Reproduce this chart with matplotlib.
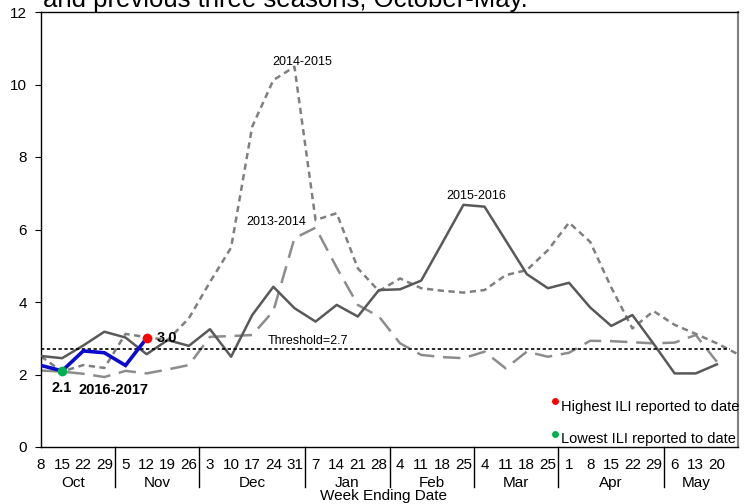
import matplotlib
matplotlib.use("Agg")
import matplotlib.pyplot as plt
import numpy as np

plt.rcParams['font.family'] = ['Liberation Sans', 'DejaVu Sans']

week_labels = ["8", "15", "22", "29", "5", "12", "19", "26", "3", "10", "17", "24", "31",
               "7", "14", "21", "28", "4", "11", "18", "25", "4", "11", "18", "25",
               "1", "8", "15", "22", "29", "6", "13", "20", ""]
months = ["Oct", "Nov", "Dec", "Jan", "Feb", "Mar", "Apr", "May"]
month_weeks = [4, 4, 5, 4, 4, 4, 5, 4]

s2013_2014 = [2.11, 2.08, 2.02, 1.93, 2.10, 2.03, 2.14, 2.26, 3.04, 3.06, 3.09, 3.75, 5.76,
              6.05, 4.95, 3.92, 3.60, 2.86, 2.54, 2.48, 2.45, 2.63, 2.17, 2.63, 2.49,
              2.60, 2.93, 2.92, 2.89, 2.86, 2.88, 3.09, 2.35]
s2014_2015 = [2.50, 2.08, 2.26, 2.18, 3.12, 3.03, 2.95, 3.55, 4.55, 5.50, 8.84, 10.12, 10.49,
              6.26, 6.45, 4.93, 4.30, 4.65, 4.38, 4.31, 4.26, 4.33, 4.74, 4.88, 5.43,
              6.19, 5.66, 4.40, 3.27, 3.75, 3.37, 3.12, 2.86, 2.56]
s2015_2016 = [2.51, 2.45, 2.80, 3.18, 3.02, 2.56, 2.95, 2.79, 3.25, 2.49, 3.64, 4.42, 3.83,
              3.46, 3.92, 3.60, 4.33, 4.35, 4.59, 5.63, 6.68, 6.63, 5.70, 4.77, 4.38,
              4.53, 3.85, 3.34, 3.64, 2.85, 2.03, 2.03, 2.28]
s2016_2017 = [2.25, 2.10, 2.65, 2.60, 2.25, 3.00]
threshold = 2.7

fig = plt.figure(figsize=(7.47, 5.04), dpi=100)
ax = fig.add_axes([41/747, (504-447)/504, (738-41)/747, (447-12)/504])

x = np.arange(len(week_labels))

ax.plot(np.arange(len(s2013_2014)), s2013_2014, color='#8c8c8c', lw=1.8,
        dashes=(7, 3.5), zorder=2)
ax.plot(np.arange(len(s2014_2015)), s2014_2015, color='#7f7f7f', lw=1.8,
        dashes=(2.5, 1.8), zorder=2)
ax.plot(np.arange(len(s2015_2016)), s2015_2016, color='#595959', lw=1.8, zorder=3)
ax.plot([0, 32.6], [threshold, threshold], color='black', lw=1.2, dashes=(2, 1.5), zorder=3)
ax.plot(np.arange(len(s2016_2017)), s2016_2017, color='#0a0ad0', lw=2.6, zorder=4,
        solid_joinstyle='miter')

imax = int(np.argmax(s2016_2017))
imin = int(np.argmin(s2016_2017))
ax.plot([imax], [s2016_2017[imax]], 'o', color='#ff0000', ms=7, zorder=5, mec='none')
ax.plot([imin], [s2016_2017[imin]], 'o', color='#00b050', ms=7, zorder=5, mec='none')

ax.text(imax + 0.97, s2016_2017[imax] + 0.02, f"{s2016_2017[imax]:.1f}", fontsize=10.5,
        fontweight='bold', ha='center', va='center')
ax.text(imin - 0.02, 1.63, f"{s2016_2017[imin]:.1f}", fontsize=10.5,
        fontweight='bold', ha='center', va='center')
ax.text(3.45, 1.57, "2016-2017", fontsize=10.5, fontweight='bold', ha='center', va='center')

ax.text(12.36, 10.62, "2014-2015", fontsize=9, ha='center', va='center')
ax.text(11.13, 6.2, "2013-2014", fontsize=9, ha='center', va='center')
ax.text(20.6, 6.92, "2015-2016", fontsize=9, ha='center', va='center')
ax.text(12.64, 2.92, "Threshold=2.7", fontsize=9, ha='center', va='center')

ax.plot([24.34], [1.27], 'o', color='#ff0000', ms=5, mec='none', clip_on=False)
ax.text(24.62, 1.1, "Highest ILI reported to date", fontsize=10.5, ha='left', va='center')
ax.plot([24.34], [0.36], 'o', color='#00b050', ms=5, mec='none', clip_on=False)
ax.text(24.62, 0.22, "Lowest ILI reported to date", fontsize=10.5, ha='left', va='center')

ax.set_xlim(0, 33)
ax.set_ylim(0, 12)
ax.set_yticks(range(0, 13, 2))
ax.tick_params(axis='y', labelsize=11, length=4, width=0.8, pad=6)
ax.set_xticks(x)
ax.set_xticklabels(week_labels, fontsize=11)
ax.tick_params(axis='x', length=0, pad=8)

for side in ['left', 'top', 'bottom']:
    ax.spines[side].set_color('black')
    ax.spines[side].set_linewidth(1.0)
ax.spines['right'].set_color('#808080')
ax.spines['right'].set_linewidth(1.5)

# month separators and labels
start = 0
trans = ax.get_xaxis_transform()
for m, n in zip(months, month_weeks):
    end = start + n
    last = min(end - 1, 32)
    ax.text((start + last) / 2, -0.083, m, transform=trans, fontsize=11,
            ha='center', va='center')
    if end <= 32:
        ax.plot([end - 0.5, end - 0.5], [0, -0.092], transform=trans, color='black',
                lw=1.0, clip_on=False)
    start = end

ax.text(16.2, -0.112, "Week Ending Date", transform=trans, fontsize=11,
        ha='center', va='center')

fig.text(43/747, 1 - 7/504, "and previous three seasons, October-May.", fontsize=18.5,
         ha='left', va='baseline')

fig.savefig("out.png", dpi=100)
